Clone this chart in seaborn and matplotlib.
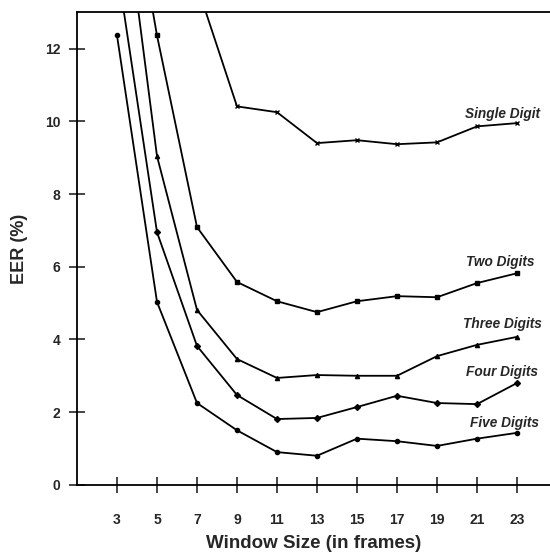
"""
EER vs window size, one curve per number of digits
"""

import pandas as pd
import matplotlib
matplotlib.use('Agg')
import matplotlib.pyplot as plt
import seaborn as sns

# Data (points above 13 are clipped by the axes)
window_sizes = [3, 5, 7, 9, 11, 13, 15, 17, 19, 21, 23]
single_x = [7, 9, 11, 13, 15, 17, 19, 21, 23]
single_digit = [13.74, 10.41, 10.25, 9.40, 9.48, 9.37, 9.42, 9.86, 9.95]
two_digits = [18.7, 12.36, 7.09, 5.58, 5.05, 4.75, 5.05, 5.19, 5.16, 5.55, 5.82]
three_digits = [17.6, 9.04, 4.81, 3.46, 2.94, 3.02, 3.00, 3.00, 3.54, 3.85, 4.07]
four_digits = [14.27, 6.95, 3.82, 2.47, 1.81, 1.84, 2.14, 2.45, 2.25, 2.22, 2.80]
five_digits = [12.36, 5.03, 2.25, 1.50, 0.90, 0.80, 1.27, 1.20, 1.07, 1.27, 1.43]

series_names = ['Single Digit', 'Two Digits', 'Three Digits', 'Four Digits', 'Five Digits']
series_x = [single_x, window_sizes, window_sizes, window_sizes, window_sizes]
series_y = [single_digit, two_digits, three_digits, four_digits, five_digits]
series_markers = ['x', 's', '^', 'D', 'o']
label_pos = [(20.4, 10.2), (20.45, 6.13), (20.3, 4.42), (20.45, 3.1), (20.65, 1.7)]

# Style
sns.set_style('ticks')
plt.rcParams['font.family'] = ['Liberation Sans', 'DejaVu Sans']

fig = plt.figure(figsize=(5.5, 5.56), dpi=100)
ax = fig.add_axes([0.14, 0.128, 0.86, 0.85])

for name, xs, ys, mk, (lx, ly) in zip(series_names, series_x, series_y,
                                       series_markers, label_pos):
    df = pd.DataFrame({'window': xs, 'eer': ys})
    sns.lineplot(data=df, x='window', y='eer', color='black', marker=mk,
                 linewidth=1.3, markersize=3.0, markeredgewidth=1.0,
                 markeredgecolor='black', ax=ax)
    ax.text(lx, ly, name, fontsize=9.8, fontweight='bold', fontstyle='italic',
            ha='left', va='center')

ax.set_xlim(1, 24.65)
ax.set_ylim(0, 13)
ax.set_xticks(window_sizes)
ax.set_yticks([0, 2, 4, 6, 8, 10, 12])
ax.tick_params(axis='both', direction='inout', length=12, width=1.2,
               labelsize=10)
ax.tick_params(axis='y', pad=6)
ax.tick_params(axis='x', pad=14)
for lab in ax.get_xticklabels() + ax.get_yticklabels():
    lab.set_fontweight('bold')

ax.spines['right'].set_visible(False)
for s in ['left', 'top', 'bottom']:
    ax.spines[s].set_linewidth(1.3)
    ax.spines[s].set_color('black')

ax.set_xlabel('Window Size (in frames)', fontsize=13.5, fontweight='bold', labelpad=6)
ax.set_ylabel('EER (%)', fontsize=13, fontweight='bold', labelpad=12)

fig.savefig('out.png', dpi=100)
plt.close(fig)
